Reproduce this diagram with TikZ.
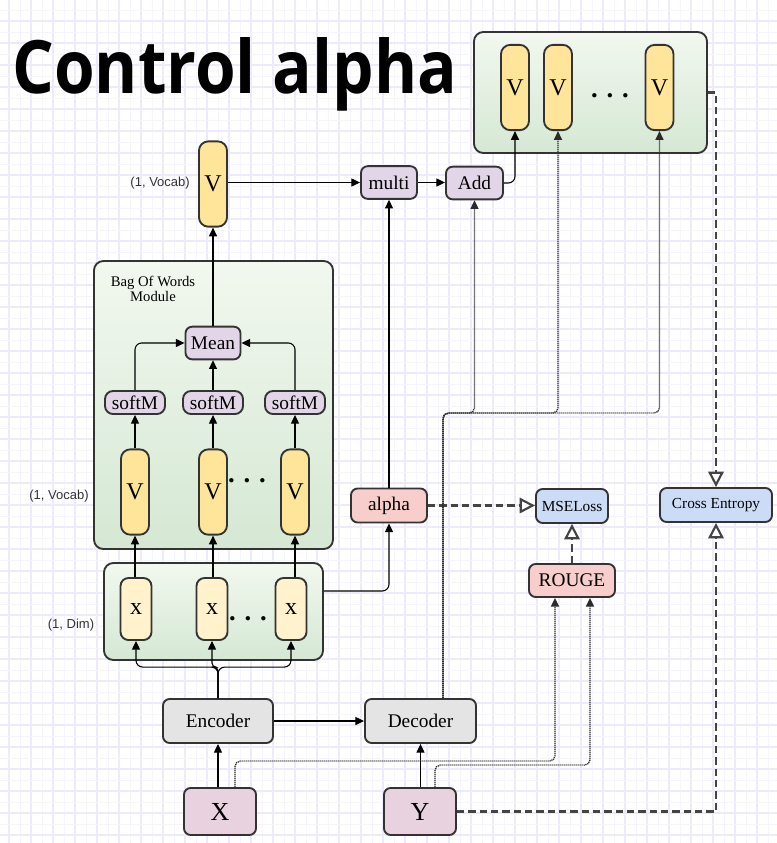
\documentclass[tikz,border=0pt]{standalone}
\usepackage{fontspec}
\setmainfont{Liberation Serif}
\setsansfont{Liberation Sans}
\newfontfamily\titlefont{Open Sans}
\usetikzlibrary{arrows.meta,calc}
\definecolor{bord}{HTML}{333333}
\definecolor{vcol}{HTML}{FFE599}
\definecolor{xcol}{HTML}{FFF2CC}
\definecolor{pcol}{HTML}{E1D5E7}
\definecolor{rcol}{HTML}{F8CECC}
\definecolor{lcol}{HTML}{CCDCF6}
\definecolor{gcol}{HTML}{E4E4E4}
\definecolor{icol}{HTML}{E8D2DF}
\definecolor{gtop}{HTML}{F2F8EF}
\definecolor{gbot}{HTML}{D5E8D4}
\definecolor{gridmaj}{HTML}{ECEAFB}
\definecolor{gridmin}{HTML}{F6F5FD}
\definecolor{dashc}{HTML}{444444}
\definecolor{dotc}{HTML}{2A2A2A}
\tikzset{
  bx/.style={draw=bord, line width=1.4pt, rounded corners=5pt, inner sep=0pt, text=black},
  cont/.style={bx, top color=gtop, bottom color=gbot, rounded corners=7pt},
  vbox/.style={bx, fill=vcol, minimum width=21pt, minimum height=64pt, rounded corners=7pt, font=\fontsize{18}{18}\selectfont},
  xbox/.style={bx, fill=xcol, minimum width=23.25pt, minimum height=46.5pt, rounded corners=6pt, font=\fontsize{18}{18}\selectfont},
  pbox/.style={bx, fill=pcol, minimum height=24.5pt, font=\fontsize{14.5}{14.5}\selectfont},
  sbox/.style={bx, fill=pcol, minimum width=45pt, minimum height=17.25pt, rounded corners=6pt, font=\fontsize{14.5}{14.5}\selectfont},
  rbox/.style={bx, fill=rcol, minimum height=25.5pt, font=\fontsize{14.5}{14.5}\selectfont},
  lbox/.style={bx, fill=lcol, minimum height=25.5pt, font=\fontsize{11.5}{11.5}\selectfont},
  gbox/.style={bx, fill=gcol, minimum height=33pt, font=\fontsize{14.5}{14.5}\selectfont},
  ibox/.style={bx, fill=icol, minimum width=54pt, minimum height=35.25pt, font=\fontsize{19.5}{19.5}\selectfont},
  dotsnode/.style={inner sep=0pt, anchor=base, font=\bfseries\fontsize{20}{20}\selectfont},
  lab/.style={inner sep=0pt, font=\sffamily\fontsize{9.75}{10}\selectfont, text=black!80},
  arr/.style={-{Triangle[length=6.5pt,width=6pt]}, line width=0.8pt, black},
  dotarr/.style={-{Triangle[length=6.5pt,width=6pt]}, line width=1pt, dotc, dash pattern=on 0.9pt off 0.6pt},
  dasharr/.style={-{Triangle[open,length=11.5pt,width=11.5pt,fill=white]}, line width=1.6pt, dashc, dash pattern=on 5.5pt off 3pt}
}
\begin{document}
\begin{tikzpicture}[x=0.75pt,y=-0.75pt]
\useasboundingbox (0,0) rectangle (777,843);
\fill[white] (0,0) rectangle (777,843);
% grid
\foreach \i in {0,...,35} {
  \draw[gridmin, line width=0.6pt] (20+22*\i,0) -- (20+22*\i,843);
  \draw[gridmaj, line width=0.8pt] (9+22*\i,0) -- (9+22*\i,843);
}
\foreach \j in {0,...,39} {
  \draw[gridmin, line width=0.6pt] (0,10+22*\j) -- (777,10+22*\j);
  \draw[gridmaj, line width=0.8pt] (0,21+22*\j) -- (777,21+22*\j);
}
% title
\node[anchor=base west, inner sep=0pt] (title) at (12,93) {\resizebox{333.75pt}{42pt}{\titlefont\bfseries Control alpha}};
% top container
\node[cont, minimum width=174.75pt, minimum height=90.75pt] (tc) at (590.5,92.5) {};
\node[vbox] (tv1) at (515,87.5) {V};
\node[vbox] (tv2) at (558,87.5) {V};
\node[vbox] (tv3) at (659.5,87.5) {V};
\node[dotsnode] (td) at (610,97) {. . .};
% output vocab
\node[vbox] (ov) at (213,184) {V};
\node[lab, anchor=east] (ovl) at (190,183) {(1, Vocab)};
\node[pbox, minimum width=42pt] (multi) at (389,182.5) {multi};
\node[pbox, minimum width=42.75pt] (add) at (474.5,183) {Add};
% bag of words
\node[cont, minimum width=179.25pt, minimum height=216pt] (bow) at (213.5,405) {};
\node[inner sep=0pt, align=center, font=\fontsize{11}{11.25}\selectfont] (bowl) at (153,288.5) {Bag Of Words\\Module};
\node[pbox, minimum width=41.25pt] (mean) at (213,343) {Mean};
\node[sbox] (s1) at (135,402.5) {softM};
\node[sbox] (s2) at (213,402.5) {softM};
\node[sbox] (s3) at (295,402.5) {softM};
\node[vbox] (b1) at (135,492) {V};
\node[vbox] (b2) at (213,492) {V};
\node[vbox] (b3) at (295,492) {V};
\node[dotsnode] (bd) at (247,482) {. . .};
\node[lab] (bl) at (59,496) {(1, Vocab)};
% x container
\node[cont, minimum width=164.25pt, minimum height=72.75pt] (xc) at (213.5,611.5) {};
\node[xbox] (x1) at (136,609) {x};
\node[xbox] (x2) at (212,609) {x};
\node[xbox] (x3) at (291,609) {x};
\node[dotsnode] (xd) at (248,620) {. . .};
\node[lab] (xl) at (71,625) {(1, Dim)};
% encoder / decoder
\node[gbox, minimum width=82.5pt] (enc) at (218,721) {Encoder};
\node[gbox, minimum width=83.25pt] (dec) at (420.5,721) {Decoder};
\node[ibox] (X) at (220,811.5) {X};
\node[ibox] (Y) at (420,811.5) {Y};
% losses
\node[rbox, minimum width=57pt] (alpha) at (389,505.5) {alpha};
\node[lbox, minimum width=54pt] (mse) at (572,506) {MSELoss};
\node[lbox, minimum width=84pt] (ce) at (716,505) {Cross Entropy};
\node[rbox, minimum width=64.5pt, minimum height=24.75pt] (rouge) at (572,580.5) {ROUGE};
% connectors
\draw[arr] (ov.east |- multi.west) -- (multi.west);
\draw[arr] (multi.east) -- (multi.east -| add.west);
\draw[arr, rounded corners=5pt] (add.east) -| (tv1.south);
\draw[arr] (mean.north) -- (ov.south);
\draw[arr, rounded corners=5pt] (s1.north) |- (mean.west);
\draw[arr] (s2.north) -- (mean.south);
\draw[arr, rounded corners=5pt] (s3.north) |- (mean.east);
\draw[arr] (b1.north) -- (s1.south);
\draw[arr] (b2.north) -- (s2.south);
\draw[arr] (b3.north) -- (s3.south);
\draw[arr] (x1.north -| b1.south) -- (b1.south);
\draw[arr] (x2.north -| b2.south) -- (b2.south);
\draw[arr] (x3.north -| b3.south) -- (b3.south);
\draw[arr, rounded corners=5pt] (enc.north) -- ++(0,-31) -| (x1.south);
\draw[arr, rounded corners=3pt] (enc.north) -- ++(0,-31) -| (x2.south);
\draw[arr, rounded corners=5pt] (enc.north) -- ++(0,-31) -| (x3.south);
\draw[arr] (enc.east) -- (dec.west);
\draw[arr] (X.north -| enc.south) -- (enc.south);
\draw[arr] (Y.north -| dec.south) -- (dec.south);
\draw[dotarr, rounded corners=4pt] ($(X.north)+(15,0)$) -- ++(0,-26) -| ($(rouge.south)+(-17,0)$);
\draw[dotarr, rounded corners=4pt] ($(Y.north)+(15,0)$) -- ++(0,-22) -| ($(rouge.south)+(18,0)$);
\draw[dasharr] (rouge.north -| mse.south) -- (mse.south);
\draw[dasharr] (alpha.east) -- (alpha.east -| mse.west);
\draw[arr, rounded corners=5pt] ($(xc.east)+(0,-20.5)$) -| (alpha.south);
\draw[arr] (alpha.north) -- (multi.south);
\coordinate (dtop) at ($(dec.north)+(22.5,0)$);
\draw[dotarr, rounded corners=4pt] (dtop) -- ++(0,-285) -| (add.south);
\draw[dotarr, rounded corners=4pt] (dtop) -- ++(0,-285) -| (tv2.south);
\draw[dotarr, rounded corners=4pt] (dtop) -- ++(0,-285) -| (tv3.south);
\draw[dasharr] (tc.east) -| (ce.north);
\draw[dasharr] (Y.east) -| (ce.south);
\end{tikzpicture}
\end{document}
